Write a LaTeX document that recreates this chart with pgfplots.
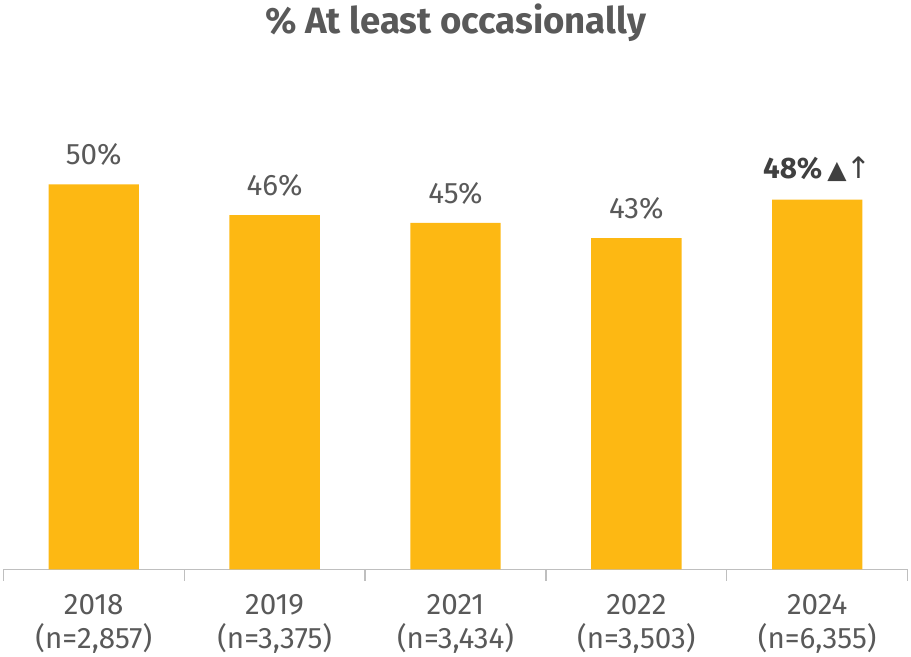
\documentclass[border=0pt]{standalone}
\usepackage{pgfplots}
\pgfplotsset{compat=1.18}
\usepackage{fontspec}
\setmainfont{Fira Sans}
\newfontfamily\symfont{DejaVu Sans}
\definecolor{bargold}{HTML}{FDB813}
\definecolor{txtgrey}{HTML}{595959}
\definecolor{boldgrey}{HTML}{404040}
\definecolor{axisgrey}{HTML}{BFBFBF}
\begin{document}
\begin{tikzpicture}
\begin{axis}[
    width=901.5bp, height=460.8bp,
    scale only axis,
    ybar, bar width=0.5,
    xmin=-0.5, xmax=4.5, ymin=0, ymax=60,
    axis y line=none, axis x line*=bottom,
    x axis line style={draw=axisgrey, line width=1.2bp},
    xtick={0,1,2,3,4},
    xticklabels={{2018\\(n=2,857)},{2019\\(n=3,375)},{2021\\(n=3,434)},{2022\\(n=3,503)},{2024\\(n=6,355)}},
    major tick length=0pt,
    x tick label style={align=center, text=txtgrey, font=\fontsize{29.5bp}{34bp}\selectfont, yshift=-21bp},
    extra x ticks={-0.5,0.5,1.5,2.5,3.5,4.5},
    extra x tick labels={},
    extra x tick style={major tick length=11bp, tick align=outside, tick style={draw=axisgrey, line width=1.2bp}},
    title={\bfseries \% At least occasionally},
    title style={at={(0.5,1)}, anchor=base, yshift=68bp, text=txtgrey, font=\fontsize{36.5bp}{40bp}\selectfont},
    point meta=explicit symbolic,
    nodes near coords={\pgfplotspointmeta},
    nodes near coords style={font=\fontsize{29.5bp}{34bp}\selectfont, text=txtgrey, anchor=south, yshift=15bp},
    clip=false,
]
\addplot[fill=bargold, draw=none] coordinates {
    (0,50) [50\%]
    (1,46) [46\%]
    (2,45) [45\%]
    (3,43) [43\%]
    (4,48) [{\textcolor{boldgrey}{\bfseries 48\%\,{\symfont\fontsize{25bp}{28bp}\selectfont ▲}{\symfont\mdseries ↑}}}]
};
\end{axis}
\end{tikzpicture}
\end{document}
